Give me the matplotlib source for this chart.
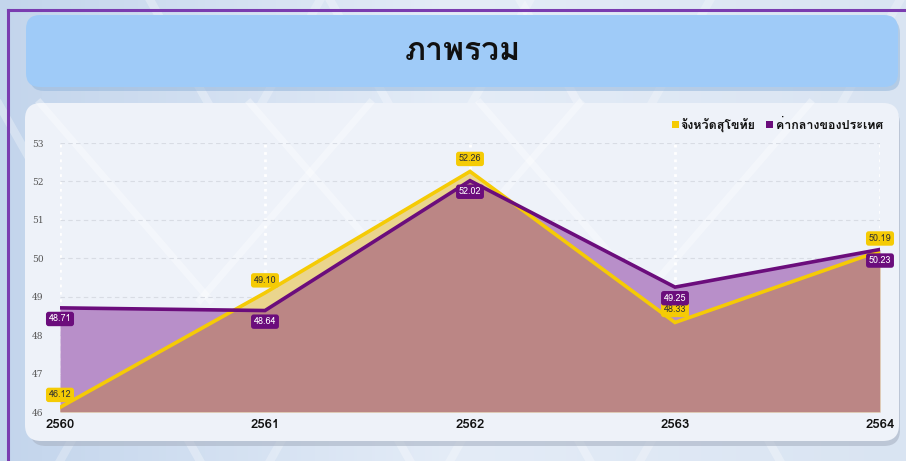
import numpy as np
import matplotlib
matplotlib.use('Agg')
import matplotlib.pyplot as plt
from matplotlib import font_manager as fm
from matplotlib.ft2font import FT2Font
from matplotlib.patches import FancyBboxPatch, Rectangle

# data
years = [2560, 2561, 2562, 2563, 2564]
sukhothai = [46.12, 49.10, 52.26, 48.33, 50.19]
national = [48.71, 48.64, 52.02, 49.25, 50.23]
y_ticks = [46, 47, 48, 49, 50, 51, 52, 53]
title = 'ภาพรวม'
name_s = 'จังหวัดสุโขทัย'
name_n = 'ค่ากลางของประเทศ'

# find a font with Thai glyphs
thai = None
for f in fm.fontManager.ttflist:
    try:
        if 0x0E20 in FT2Font(f.fname).get_charmap():
            thai = f.name
            break
    except Exception:
        pass
if thai:
    plt.rcParams['font.family'] = [thai, 'DejaVu Sans']

YEL = '#f5cb05'
PUR = '#6b0d7c'

W, H = 906, 461
fig = plt.figure(figsize=(W / 100, H / 100), dpi=100)

# background in pixel coordinates
bg = fig.add_axes([0, 0, 1, 1])
bg.set_xlim(0, W)
bg.set_ylim(H, 0)
bg.axis('off')
grad = np.linspace(0, 1, 256).reshape(1, -1)
bg.imshow(grad, extent=[0, W, H, 0], aspect='auto',
          cmap=matplotlib.colors.LinearSegmentedColormap.from_list('b', ['#c3d5ec', '#e4ecf7', '#d9e4f2']),
          zorder=0)
for x0 in [-60, 150, 330, 520]:
    bg.plot([x0, x0 + 260], [0, 461], color='white', lw=6, alpha=0.3, zorder=1)
    bg.plot([x0 + 380, x0 + 120], [0, 461], color='white', lw=6, alpha=0.25, zorder=1)

# purple frame
bg.plot([8, 8], [10, H], color='#7a3cb0', lw=2.2, zorder=2)
bg.plot([8, W], [10, 10], color='#7a3cb0', lw=2.2, zorder=2)

# title box
bg.add_patch(FancyBboxPatch((30, 19), 870, 72, boxstyle='round,pad=0,rounding_size=14',
                            fc='#8fb3da', ec='none', alpha=0.5, zorder=2))
bg.add_patch(FancyBboxPatch((26, 15), 872, 72, boxstyle='round,pad=0,rounding_size=14',
                            fc='#9fcbf8', ec='none', zorder=3))
bg.text(463, 51, title, ha='center', va='center', fontsize=23, fontweight='bold', color='#111111', zorder=4)

# chart panel
bg.add_patch(FancyBboxPatch((30, 108), 870, 338, boxstyle='round,pad=0,rounding_size=16',
                            fc='#a9b3c4', ec='none', alpha=0.6, zorder=2))
bg.add_patch(FancyBboxPatch((25, 103), 874, 338, boxstyle='round,pad=0,rounding_size=16',
                            fc='#eef2f9', ec='none', zorder=3))
for x0 in [40, 250, 480]:
    bg.plot([x0, x0 + 170], [103, 300], color='white', lw=5, alpha=0.35, zorder=3)
    bg.plot([x0 + 330, x0 + 160], [103, 300], color='white', lw=5, alpha=0.35, zorder=3)

# legend
bg.add_patch(Rectangle((672, 121), 7, 7, fc=YEL, ec='none', zorder=4))
bg.text(680, 125, name_s, ha='left', va='center', fontsize=9, fontweight='bold', color='#111111', zorder=4)
bg.add_patch(Rectangle((766, 121), 7, 7, fc=PUR, ec='none', zorder=4))
bg.text(776, 125, name_n, ha='left', va='center', fontsize=9, fontweight='bold', color='#111111', zorder=4)

# main axes
ax = fig.add_axes([60 / W, (H - 412) / H, 820 / W, 269 / H])
ax.patch.set_alpha(0)
ax.set_xlim(years[0], years[-1])
ax.set_ylim(46, 53)
for s in ax.spines.values():
    s.set_visible(False)
ax.set_xticks(years)
ax.set_xticklabels([str(y) for y in years], fontsize=9.5, fontweight='bold', color='#111111')
ax.set_yticks(y_ticks)
ax.set_yticklabels([str(t) for t in y_ticks], fontsize=6.5, color='#555555', family='DejaVu Serif')
ax.tick_params(length=0)
ax.tick_params(axis='y', pad=12)
ax.tick_params(axis='x', pad=5)
ax.grid(axis='y', color='#d8dce4', ls=(0, (4, 3)), lw=0.8)
ax.grid(axis='x', color='white', ls=':', lw=2)
ax.set_axisbelow(True)

base = ax.fill_between(years, 46, national, color='#b88fc9', lw=0, zorder=1)
ax.fill_between(years, 46, sukhothai, color='#ead58d', lw=0, zorder=1.1)
both = ax.fill_between(years, 46, sukhothai, color='#bb8685', lw=0, zorder=1.2)
both.set_clip_path(base.get_paths()[0], ax.transData)

ax.plot(years, sukhothai, color=YEL, lw=2.6, zorder=3, solid_joinstyle='miter')
ax.plot(years, national, color=PUR, lw=2.6, zorder=3.1, solid_joinstyle='miter')

for x, v in zip(years, sukhothai):
    ax.annotate(f'{v:.2f}', (x, v), xytext=(0, 9), textcoords='offset points',
                ha='center', va='center', fontsize=6.5, color='#333333', zorder=5,
                bbox=dict(boxstyle='round,pad=0.3,rounding_size=0.3', fc=YEL, ec='none'))
for x, v in zip(years, national):
    ax.annotate(f'{v:.2f}', (x, v), xytext=(0, -8), textcoords='offset points',
                ha='center', va='center', fontsize=6.5, color='white', zorder=5,
                bbox=dict(boxstyle='round,pad=0.3,rounding_size=0.3', fc=PUR, ec='none'))

fig.savefig('out.png', dpi=100)
